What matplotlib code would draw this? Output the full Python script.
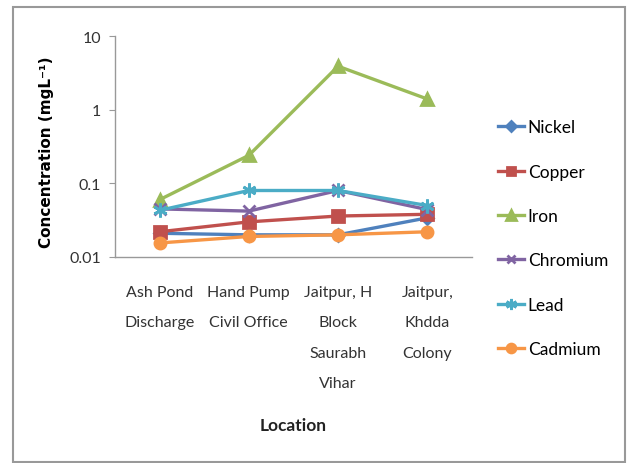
import numpy as np
import matplotlib.pyplot as plt
from matplotlib.patches import Rectangle

plt.rcParams['font.family'] = ['Lato', 'DejaVu Sans']

locations = ['Ash Pond\nDischarge', 'Hand Pump\nCivil Office',
             'Jaitpur, H\nBlock\nSaurabh\nVihar', 'Jaitpur,\nKhdda\nColony']

nickel = [0.021, 0.020, 0.020, 0.034]
copper = [0.022, 0.030, 0.036, 0.038]
iron = [0.060, 0.24, 3.9, 1.4]
chromium = [0.045, 0.042, 0.080, 0.044]
lead = [0.043, 0.080, 0.080, 0.050]
cadmium = [0.0155, 0.019, 0.020, 0.022]

series = [
    ('Nickel', nickel, '#4F81BD', 'D', 6),
    ('Copper', copper, '#C0504D', 's', 8),
    ('Iron', iron, '#9BBB59', '^', 9),
    ('Chromium', chromium, '#8064A2', 'x', 8),
    ('Lead', lead, '#4BACC6', (6, 2, 0), 10),
    ('Cadmium', cadmium, '#F79646', 'o', 8),
]

fig = plt.figure(figsize=(6.3, 4.64), dpi=100)
ax = fig.add_axes([0.1825, 0.444, 0.5665, 0.476])

x = np.arange(len(locations))
for name, vals, col, mk, ms in series:
    ax.plot(x, vals, color=col, lw=2.4, marker=mk, ms=ms, mew=2,
            mec=col, mfc=col, label=name)

ax.set_yscale('log')
ax.set_ylim(0.01, 10)
ax.set_xlim(-0.5, 3.5)
ax.set_yticks([0.01, 0.1, 1, 10])
ax.set_yticklabels(['0.01', '0.1', '1', '10'])
ax.minorticks_off()
ax.set_xticks(x)
ax.set_xticklabels(locations, linespacing=2.5, fontsize=11.5, color='#333333', va='top')
ax.tick_params(axis='x', length=0, pad=20)
ax.tick_params(axis='y', length=4, color='#999999', labelsize=11.5, labelcolor='#333333', pad=6)

for s in ['top', 'right']:
    ax.spines[s].set_visible(False)
for s in ['left', 'bottom']:
    ax.spines[s].set_color('#999999')
    ax.spines[s].set_linewidth(1)

ax.set_ylabel('Concentration (mgL⁻¹)', fontsize=11, fontweight='bold',
              family=['DejaVu Sans'])
ax.yaxis.set_label_coords(-0.17, 0.48)
ax.set_xlabel('Location', fontsize=12.5, fontweight='bold', color='#222222')
ax.xaxis.set_label_coords(0.5, -0.725)

leg = ax.legend(loc='center left', bbox_to_anchor=(1.03, 0.085), frameon=False,
                fontsize=12.5, labelspacing=1.63, handlelength=1.5, handletextpad=0.2,
                markerscale=0.8)

fig.patches.append(Rectangle((13 / 630, 1 / 464), 612 / 630, 455 / 464,
                             transform=fig.transFigure, fill=False,
                             edgecolor='#999999', lw=1.5))

fig.savefig('out.png', dpi=100)
